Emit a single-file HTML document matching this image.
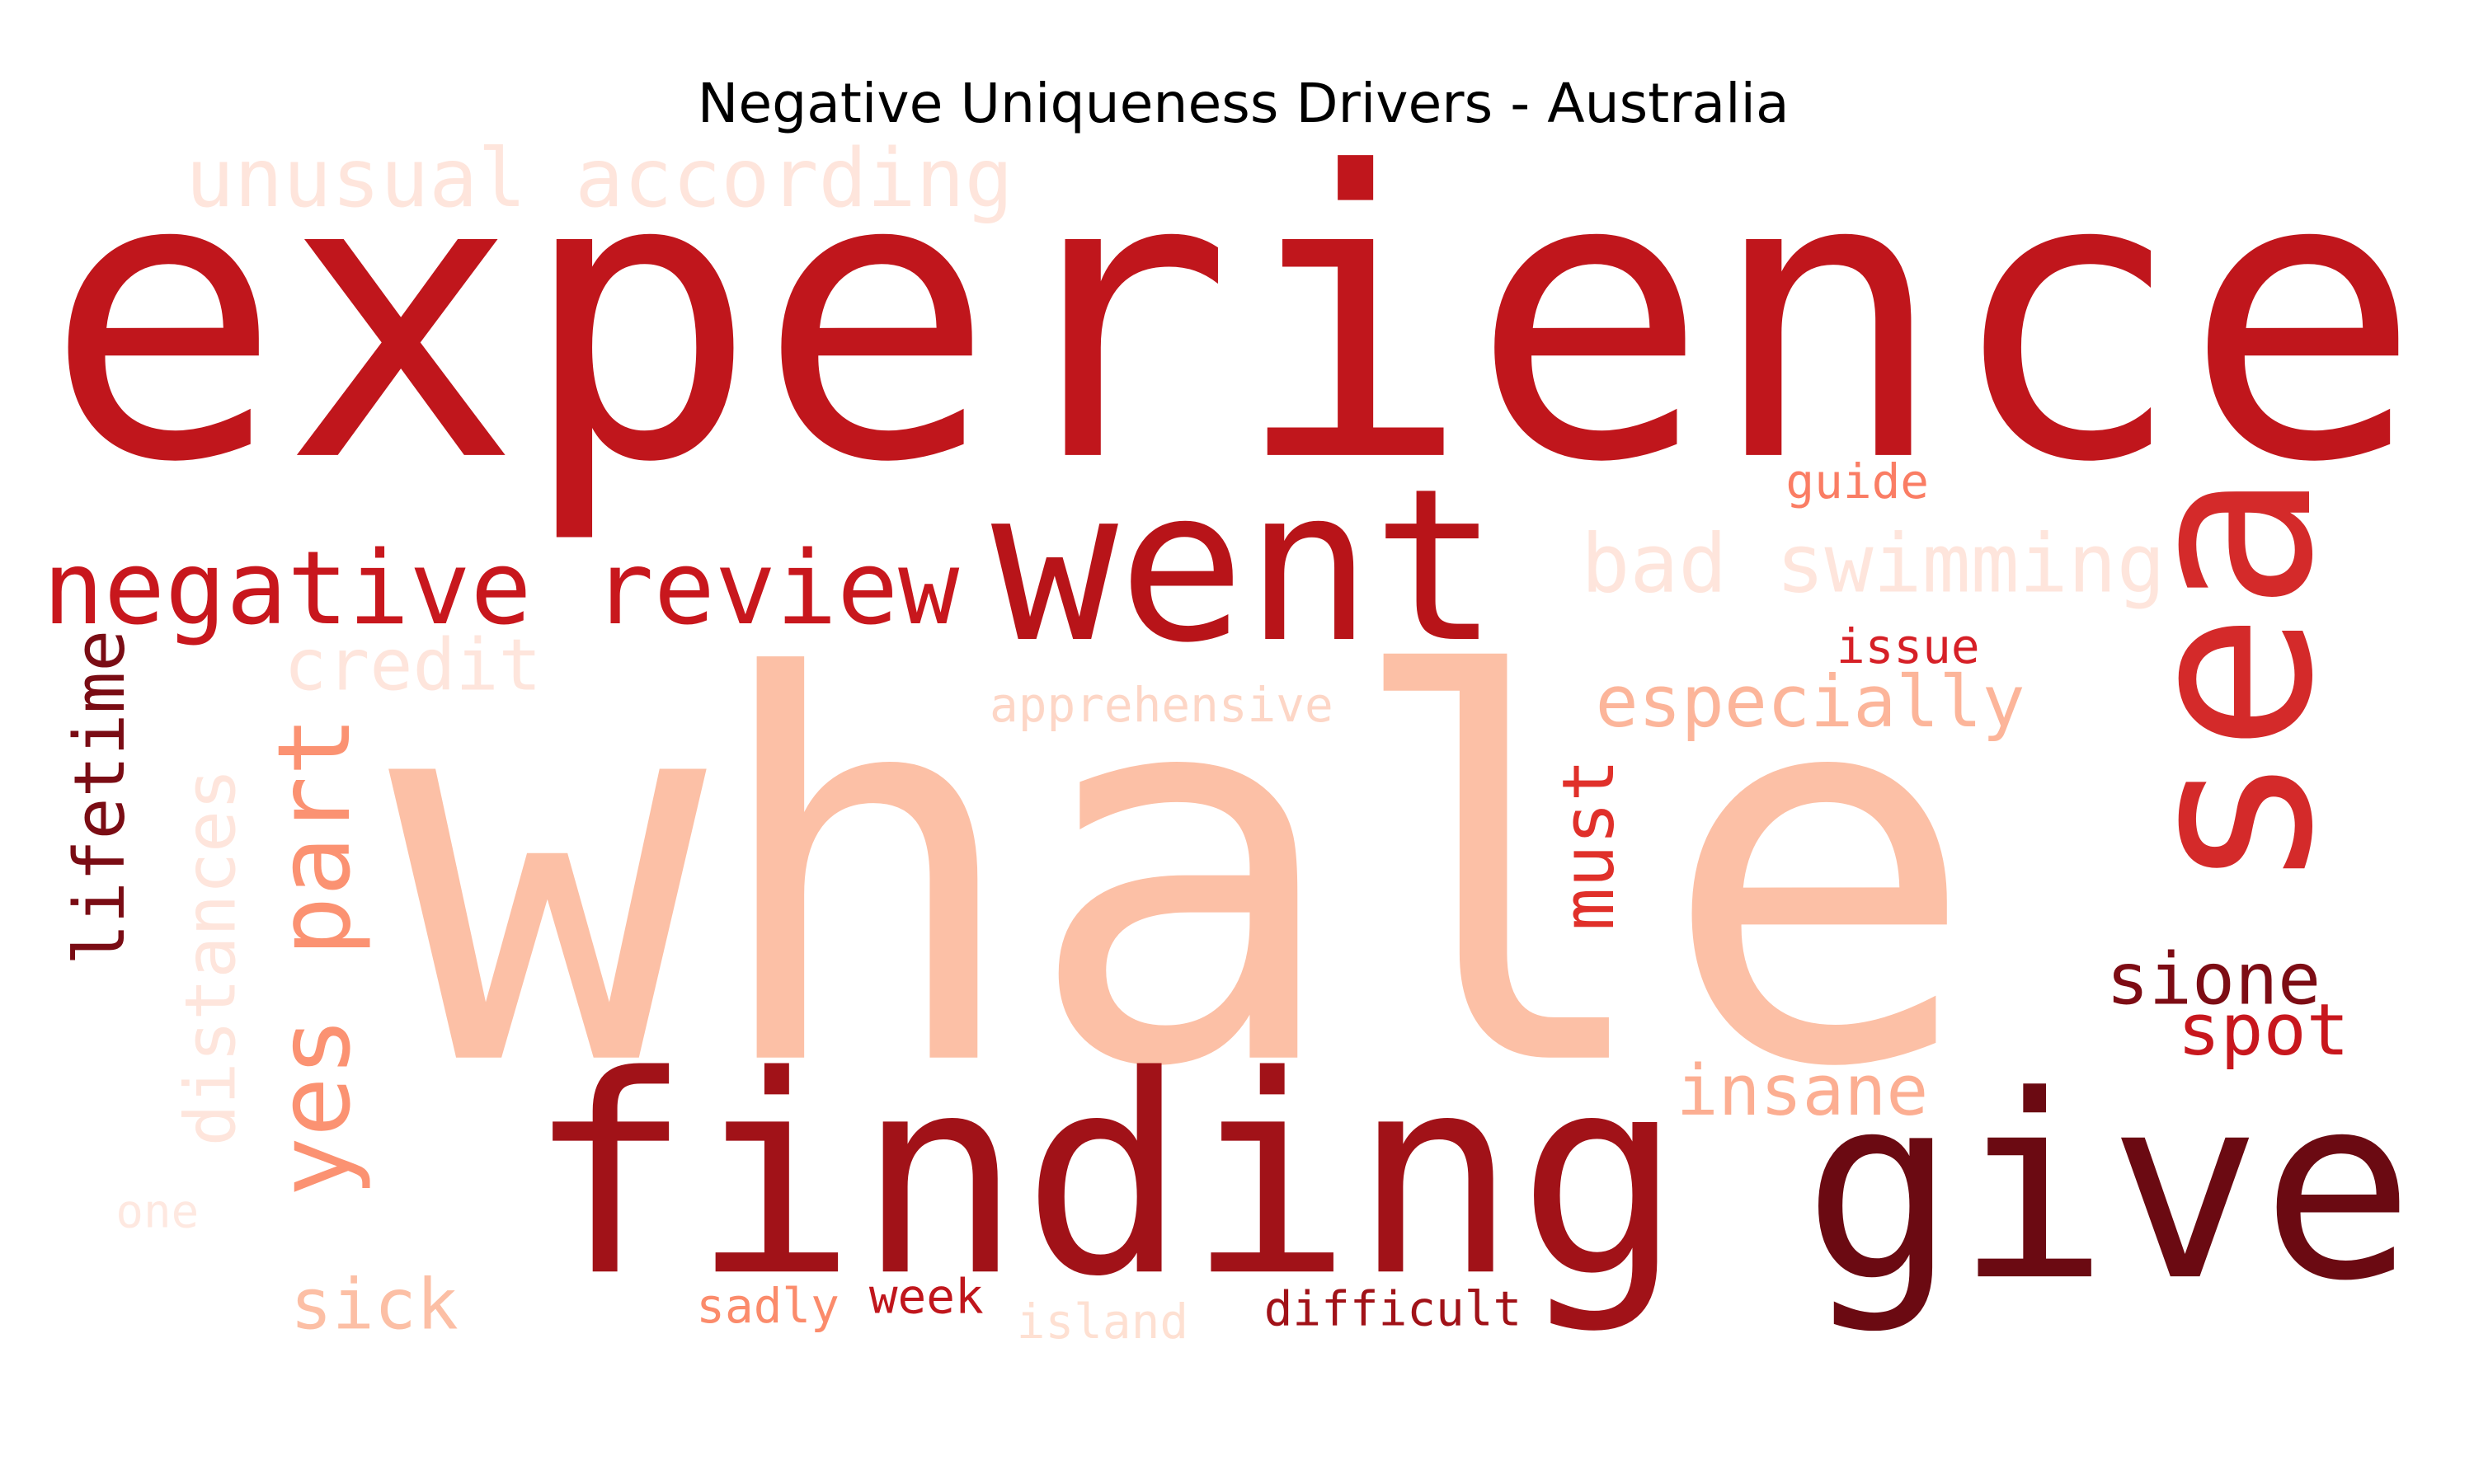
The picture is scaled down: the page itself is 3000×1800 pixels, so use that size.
<!DOCTYPE html>
<html><head><meta charset="utf-8"><style>
html,body{margin:0;padding:0;background:#fff;}
svg{display:block;}
</style></head><body>
<svg id="cloud" width="3000" height="1800" viewBox="0 0 1560 936" xmlns="http://www.w3.org/2000/svg">
<rect width="1560" height="936" fill="#ffffff"/>
<text x="784" y="77" text-anchor="middle" font-family="DejaVu Sans, Liberation Sans, sans-serif" font-size="34.5" fill="#000">Negative Uniqueness Drivers - Australia</text>
<g id="words"></g>
</svg>
<script>
const words = ["experience","whale","finding","give","went","negative review","unusual according","bad swimming","credit","apprehensive","especially","issue","guide","sea","yes part","lifetime","distances","must","sione","spot","insane","sick","one","sadly","week","island","difficult"];
const fontSizes = [249,333,173,160,133,64,51,51,45,30,45,30,30,147,63,44,44,45,45,45,44,44,29,30,30,30,30];
const colors = ["#c0161c","#fcc0a6","#a11218","#6b0a12","#b81419","#c8171d","#fee5dc","#fee5dc","#fee5dc","#fdd6c6","#fcb59a","#d62027","#fa7d64","#d42a2a","#fb9272","#7a0c14","#fee5dc","#e0302a","#7d0c14","#c8171d","#fcae92","#fcbfa5","#fee8e0","#fb8b6b","#c0161c","#fee0d2","#a11218"];
const vertical = [0,0,0,0,0,0,0,0,0,0,0,0,0,1,1,1,1,1,0,0,0,0,0,0,0,0,0];
const anchorX = [28,245,332,1137,625,27,117,997,179,624,1006,1158,1126,1456,220,78,148,1017,1328,1373,1057,183,73,439,548,641,797];
const anchorY = [287,667,802,805,403,393,130,373,435,455,458,418,314,563,755,609,723,587,633,665,703,838,774,834,828,844,836];
const g = document.getElementById('words');
const NS = "http://www.w3.org/2000/svg";
words.forEach((w,i)=>{
  const t = document.createElementNS(NS,'text');
  
  
  t.setAttribute('font-family','DejaVu Sans Mono, Liberation Mono, monospace');
  t.setAttribute('font-size', fontSizes[i]);
  t.setAttribute('fill', colors[i]);
  if (vertical[i]) {
    t.setAttribute('transform', 'translate(' + anchorX[i] + ',' + anchorY[i] + ') rotate(-90)');
    t.setAttribute('x', 0); t.setAttribute('y', 0);
  } else {
    t.setAttribute('x', anchorX[i]); t.setAttribute('y', anchorY[i]);
  }
  t.setAttribute('textLength', (w.length * fontSizes[i] * 0.602).toFixed(1));
  t.textContent = w;
  g.appendChild(t);
});
</script>
</body></html>
